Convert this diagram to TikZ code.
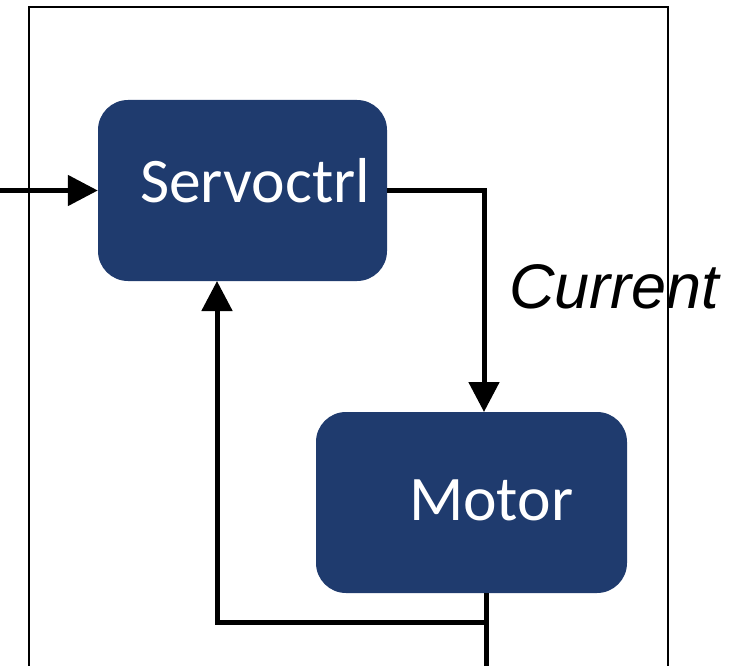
\documentclass[tikz,border=0pt]{standalone}
\usepackage{fontspec}
\usetikzlibrary{arrows.meta}
\newfontfamily\boxfont{Carlito}
\newfontfamily\labelfont{Liberation Sans}
\definecolor{blockblue}{RGB}{31,59,110}
\tikzset{
  block/.style={draw=none, fill=blockblue, rounded corners=30pt, inner sep=0pt},
  blocktext/.style={text=white, inner sep=0pt, anchor=base west,
    font=\boxfont\fontsize{63.5}{70}\selectfont},
  signal/.style={line width=5pt, -{Triangle[length=30pt,width=30pt]}},
  wire/.style={line width=5pt},
  frame/.style={line width=2.3pt},
}
\begin{document}
\begin{tikzpicture}[x=1pt, y=-1pt]
  \useasboundingbox (0,0) rectangle (753,666);

  % blocks
  \node[block, minimum width=289pt, minimum height=181pt] (servo) at (242.5,190.5) {};
  \node[block, minimum width=311pt, minimum height=181pt] (motor) at (471.5,502.5) {};
  \node[blocktext] (servotxt) at (140,203) {Servoctrl};
  \node[blocktext] (motortxt) at (409,520) {Motor};

  % signal label
  \node[inner sep=0pt, anchor=base west,
        font=\labelfont\itshape\fontsize{63}{70}\selectfont] (current) at (509,308) {Current};

  % routing points
  \coordinate (inL) at (0,190.5);
  \coordinate (bendA) at (484,190.5);
  \coordinate (motIn) at (484,412);
  \coordinate (motOut) at (486,593);
  \coordinate (fbCorner) at (486,622);
  \coordinate (fbLeft) at (217,622);
  \coordinate (servoIn) at (217,281);
  \coordinate (outEnd) at (486,666);

  % connectors
  \draw[signal] (inL) -- (servo.west);
  \draw[signal] (servo.east) -- (bendA) -- (motIn);
  \draw[wire] (motOut) -- (outEnd);
  \draw[signal] (fbCorner) -- (fbLeft) -- (servoIn);

  % enclosing frame
  \draw[frame] (29,666) -- (29,7) -- (668,7) -- (668,666);
\end{tikzpicture}
\end{document}
